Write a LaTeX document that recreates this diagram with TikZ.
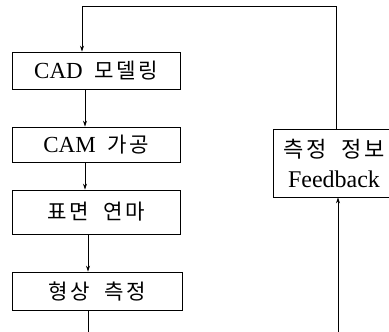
\documentclass[tikz,border=0pt]{standalone}
\usepackage{fontspec}
\setmainfont{Liberation Serif}
\newfontfamily\kr[Scale=0.92, LetterSpace=12]{Noto Sans CJK KR}
\usetikzlibrary{arrows.meta}
\begin{document}
\begin{tikzpicture}[x=1pt, y=-1pt, line width=0.8pt,
	stepbox/.style={draw, minimum width=168pt, inner sep=2pt, font=\fontsize{23}{28}\selectfont},
	every path/.style={>={Stealth[length=6pt,width=4pt]}}]
\useasboundingbox (0,0) rectangle (389,332);
\clip (0,0) rectangle (389,332);

% left column
\node[stepbox, minimum height=37pt] (cad) at (96,70.5) {CAD\ \ {\kr 모델링}};
\node[stepbox, minimum height=35pt] (cam) at (96,144.5) {CAM\ \ {\kr 가공}};
\node[stepbox, minimum height=44pt] (pol) at (96,212) {{\kr 표면\ \ 연마}};
\node[stepbox, minimum height=38pt, minimum width=170pt] (meas) at (97,291) {{\kr 형상\ \ 측정}};

% feedback box, cut by the right edge
\node[stepbox, minimum height=68pt, minimum width=122pt, align=center,
	font=\fontsize{24}{30}\selectfont] (fb) at (334,163)
	{{\kr 측정\ \ 정보}\\Feedback};

\coordinate (tl) at (82,6);
\coordinate (tr) at (336,6);
\coordinate (a) at (85,0);
\coordinate (br) at (338,332);
\coordinate (bl) at (88,332);

\draw[->] (tr |- fb.north) -- (tr) -- (tl) -- (tl |- cad.north);
\draw[->] (cad.south -| a) -- (cam.north -| a);
\draw[->] (cam.south -| a) -- (pol.north -| a);
\draw[->] (pol.south -| bl) -- (meas.north -| bl);
\draw (meas.south -| bl) -- (bl);
\draw[->] (br) -- (br |- fb.south);

\end{tikzpicture}
\end{document}
